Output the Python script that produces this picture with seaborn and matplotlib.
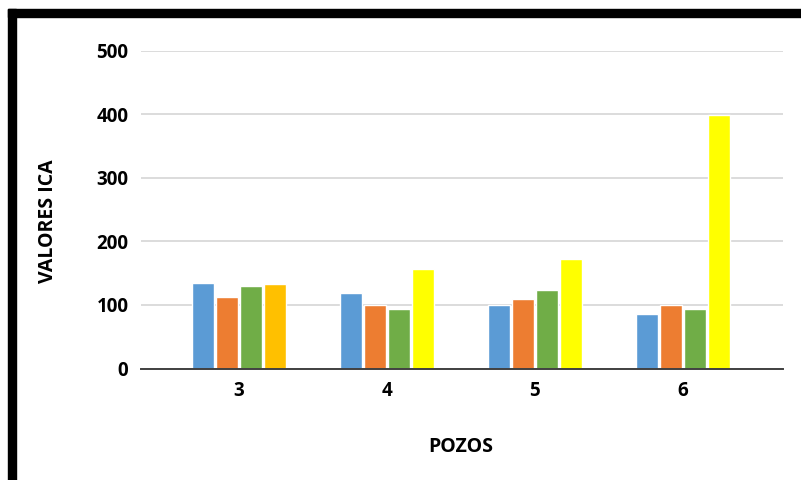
import matplotlib
matplotlib.use("Agg")
import matplotlib.pyplot as plt
from matplotlib.patches import Rectangle
import pandas as pd
import seaborn as sns

# Data: ICA values per well (pozo) for four measurement series
pozos = ["3", "4", "5", "6"]
series = ["Serie 1", "Serie 2", "Serie 3", "Serie 4"]
serie_1 = [135, 118, 100, 85]
serie_2 = [113, 100, 109, 100]
serie_3 = [130, 93, 124, 94]
serie_4 = [133, 156, 172, 399]
y_ticks = [0, 100, 200, 300, 400, 500]

palette = ["#5B9BD5", "#ED7D31", "#70AD47", "#FFFF00"]
serie_4_colors = ["#FFC000", "#FFFF00", "#FFFF00", "#FFFF00"]

rows = []
for name, vals in zip(series, [serie_1, serie_2, serie_3, serie_4]):
    for p, v in zip(pozos, vals):
        rows.append({"pozo": p, "serie": name, "valor": v})
df = pd.DataFrame(rows)

sns.set_theme(style="white")
plt.rcParams["font.family"] = ["Open Sans", "DejaVu Sans"]
plt.rcParams["font.weight"] = "bold"

W, H = 801, 480
fig = plt.figure(figsize=(W / 100, H / 100), dpi=100)
fig.patch.set_facecolor("white")

# plot area in pixel coordinates
x0, x1 = 141, 783
y_top, y_bot = 50.7, 368.5
ax = fig.add_axes([x0 / W, 1 - y_bot / H, (x1 - x0) / W, (y_bot - y_top) / H])

sns.barplot(
    data=df, x="pozo", y="valor", hue="serie",
    order=pozos, hue_order=series, palette=palette,
    width=0.649, gap=0.11, saturation=1, legend=False, ax=ax,
)

# the fourth series uses a per-well colour
for bar, c in zip(ax.containers[3], serie_4_colors):
    bar.set_facecolor(c)

ax.set_ylim(0, 500)
ax.set_yticks(y_ticks)
ax.set_xlim(-0.662, 3.676)
ax.set_axisbelow(True)
ax.yaxis.grid(True, color="#D9D9D9", linewidth=1.3)
ax.xaxis.grid(False)
for s in ["top", "right", "left"]:
    ax.spines[s].set_visible(False)
ax.spines["bottom"].set_color("#404040")
ax.spines["bottom"].set_linewidth(1.4)
ax.tick_params(axis="both", length=0, labelsize=13.5, colors="black")
ax.tick_params(axis="y", pad=9)
ax.tick_params(axis="x", pad=9)
for lbl in ax.get_xticklabels() + ax.get_yticklabels():
    lbl.set_fontweight("bold")
ax.set_xlabel("")
ax.set_ylabel("")

fig.text(48 / W, 1 - 221 / H, "VALORES ICA", rotation=90, ha="center", va="center",
         fontsize=14, fontweight="bold", color="black")
fig.text(461 / W, 1 - 446.5 / H, "POZOS", ha="center", va="center",
         fontsize=14, fontweight="bold", color="black")

# black frame along the top and left edges
fig.patches.append(Rectangle((8 / W, 1 - 17 / H), 1 - 8 / W, 8 / H,
                             transform=fig.transFigure, color="black", zorder=10))
fig.patches.append(Rectangle((8 / W, 0), 8 / W, 1 - 9 / H,
                             transform=fig.transFigure, color="black", zorder=10))

fig.savefig("out.png", dpi=100, facecolor="white")
